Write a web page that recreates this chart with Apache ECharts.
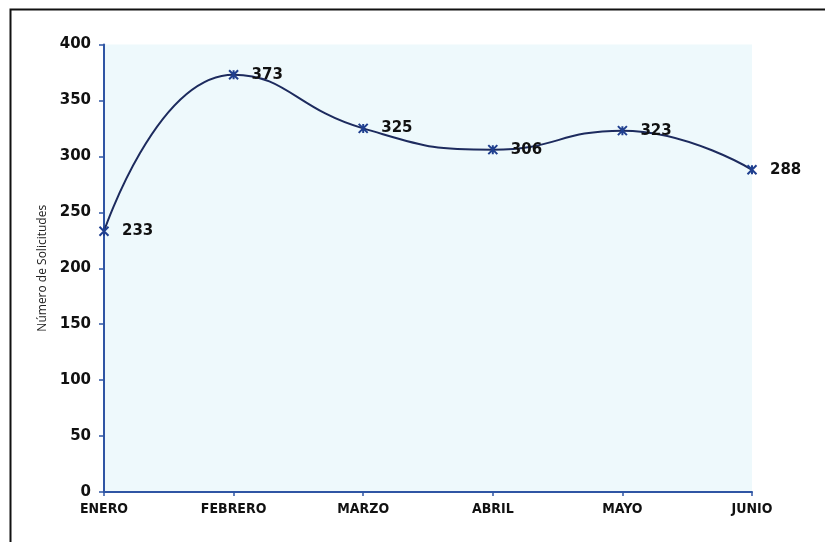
<!DOCTYPE html>
<html>
<head>
<meta charset="utf-8">
<script src="https://cdn.jsdelivr.net/npm/echarts@6/dist/echarts.min.js"></script>
<style>
html,body{margin:0;padding:0;background:#fff;}
#c{width:825px;height:542px;}
</style>
</head>
<body>
<div id="c"></div>
<script>
const categories = ['ENERO', 'FEBRERO', 'MARZO', 'ABRIL', 'MAYO', 'JUNIO'];
const solicitudes = [233, 373, 325, 306, 323, 288];
const yAxisTitle = 'Número de Solicitudes';

const chart = echarts.init(document.getElementById('c'), null, {renderer: 'canvas'});
chart.setOption({
  animation: false,
  backgroundColor: '#ffffff',
  graphic: [{
    type: 'rect',
    left: 8, top: 7,
    shape: {width: 900, height: 700},
    style: {fill: 'none', stroke: '#111', lineWidth: 2},
    z: 100
  }],
  grid: {
    left: 104, right: 73, top: 44.5, bottom: 50,
    show: true, backgroundColor: '#eef9fc', borderWidth: 0
  },
  xAxis: {
    type: 'category',
    data: categories,
    boundaryGap: false,
    axisLine: {lineStyle: {color: '#2f55a4', width: 2}},
    axisTick: {show: true, length: 4, lineStyle: {color: '#2f55a4', width: 1.5}},
    axisLabel: {
      color: '#111', fontFamily: 'DejaVu Sans Condensed', fontWeight: 'bold', fontSize: 14, margin: 10
    },
    splitLine: {show: false}
  },
  yAxis: {
    type: 'value',
    min: 0, max: 400, interval: 50,
    name: yAxisTitle,
    nameLocation: 'middle',
    nameGap: 53,
    nameRotate: 90,
    nameTextStyle: {color: '#222', fontFamily: 'Open Sans', fontSize: 12},
    axisLine: {show: true, lineStyle: {color: '#2f55a4', width: 2}},
    axisTick: {show: true, length: 5, lineStyle: {color: '#2f55a4', width: 1.5}},
    axisLabel: {
      color: '#111', fontFamily: 'DejaVu Sans', fontWeight: 'bold', fontSize: 15, margin: 13
    },
    splitLine: {show: false}
  },
  series: [{
    type: 'line',
    data: solicitudes,
    smooth: 0.5,
    lineStyle: {color: '#1d2b5e', width: 2},
    symbol: 'path://M0,0L10,10M10,0L0,10M5,0L5,10',
    symbolSize: 9,
    itemStyle: {color: 'none', borderColor: '#1f3f8f', borderWidth: 2},
    label: {
      show: true, position: 'right', distance: 11,
      color: '#111', fontFamily: 'DejaVu Sans', fontWeight: 'bold', fontSize: 15
    },
    z: 5
  }]
});
</script>
</body>
</html>
